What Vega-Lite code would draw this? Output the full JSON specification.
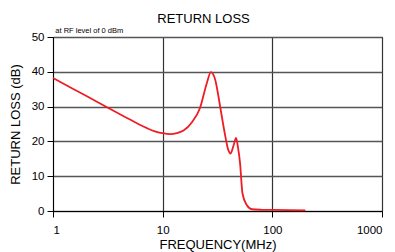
{
  "$schema": "https://vega.github.io/schema/vega-lite/v6.json",
  "width": 329,
  "height": 174,
  "autosize": {"type": "none"},
  "padding": {"left": 53, "top": 37, "right": 13, "bottom": 41},
  "background": "white",
  "config": {
    "font": "Liberation Sans",
    "view": {"stroke": "black", "strokeWidth": 1}
  },
  "title": {
    "text": "RETURN LOSS",
    "fontSize": 13,
    "fontWeight": "normal",
    "color": "black",
    "anchor": "middle",
    "frame": "group",
    "dx": -14,
    "offset": 1
  },
  "datasets": {
    "curve": [
      {"f": 1.0, "rl": 38.2},
      {"f": 1.5, "rl": 35.2},
      {"f": 2.0, "rl": 33.1},
      {"f": 3.2, "rl": 29.6},
      {"f": 4.5, "rl": 27.1},
      {"f": 6.0, "rl": 25.0},
      {"f": 7.2, "rl": 23.8},
      {"f": 8.5, "rl": 22.9},
      {"f": 9.9, "rl": 22.4},
      {"f": 11.7, "rl": 22.1},
      {"f": 13.5, "rl": 22.4},
      {"f": 15.5, "rl": 23.1},
      {"f": 18.5, "rl": 25.5},
      {"f": 21.9, "rl": 29.6},
      {"f": 25.3, "rl": 36.8},
      {"f": 27.5, "rl": 39.9},
      {"f": 30.1, "rl": 37.8},
      {"f": 33.4, "rl": 30.1},
      {"f": 36.5, "rl": 23.0},
      {"f": 39.8, "rl": 17.4},
      {"f": 41.5, "rl": 16.5},
      {"f": 44.0, "rl": 18.5},
      {"f": 46.7, "rl": 21.0},
      {"f": 48.5, "rl": 18.5},
      {"f": 50.8, "rl": 13.7},
      {"f": 53.4, "rl": 5.1},
      {"f": 58.5, "rl": 1.7},
      {"f": 65.0, "rl": 0.5},
      {"f": 80.0, "rl": 0.35},
      {"f": 100.0, "rl": 0.3},
      {"f": 200.0, "rl": 0.2}
    ]
  },
  "encoding": {
    "x": {
      "field": "f",
      "type": "quantitative",
      "scale": {"type": "log", "domain": [1, 1000]},
      "axis": {
        "title": "FREQUENCY(MHz)",
        "values": [1, 10, 100, 1000],
        "format": "d",
        "grid": true,
        "gridColor": "#333",
        "gridWidth": 1.2,
        "gridOpacity": 1,
        "domainColor": "black",
        "tickColor": "black",
        "tickSize": 6,
        "labelPadding": 7,
        "labelFontSize": 11.5,
        "labelColor": "black",
        "labelFont": "Liberation Sans",
        "titleFont": "Liberation Sans",
        "titleFontSize": 13,
        "titleFontWeight": "normal",
        "titleColor": "black",
        "titlePadding": 3
      }
    },
    "y": {
      "field": "rl",
      "type": "quantitative",
      "scale": {"domain": [0, 50]},
      "axis": {
        "title": "RETURN LOSS (dB)",
        "values": [0, 10, 20, 30, 40, 50],
        "labelOverlap": false,
        "grid": true,
        "gridColor": "#555",
        "gridWidth": 1.5,
        "gridOpacity": 1,
        "domainColor": "black",
        "tickColor": "black",
        "tickSize": 6,
        "labelPadding": 3,
        "labelFontSize": 11.5,
        "labelColor": "black",
        "labelFont": "Liberation Sans",
        "titleFont": "Liberation Sans",
        "titleFontSize": 13,
        "titleFontWeight": "normal",
        "titleColor": "black",
        "titlePadding": 9
      }
    }
  },
  "layer": [
    {
      "data": {"name": "curve"},
      "mark": {"type": "line", "color": "#ee1c25", "strokeWidth": 1.8, "interpolate": "monotone"}
    },
    {
      "data": {"values": [{"f": 1.05, "rl": 50, "label": "at RF level of 0 dBm"}]},
      "mark": {"type": "text", "align": "left", "baseline": "bottom", "dy": -2, "fontSize": 7.5, "font": "Liberation Sans", "color": "black"},
      "encoding": {
        "text": {"field": "label"}
      }
    }
  ]
}
